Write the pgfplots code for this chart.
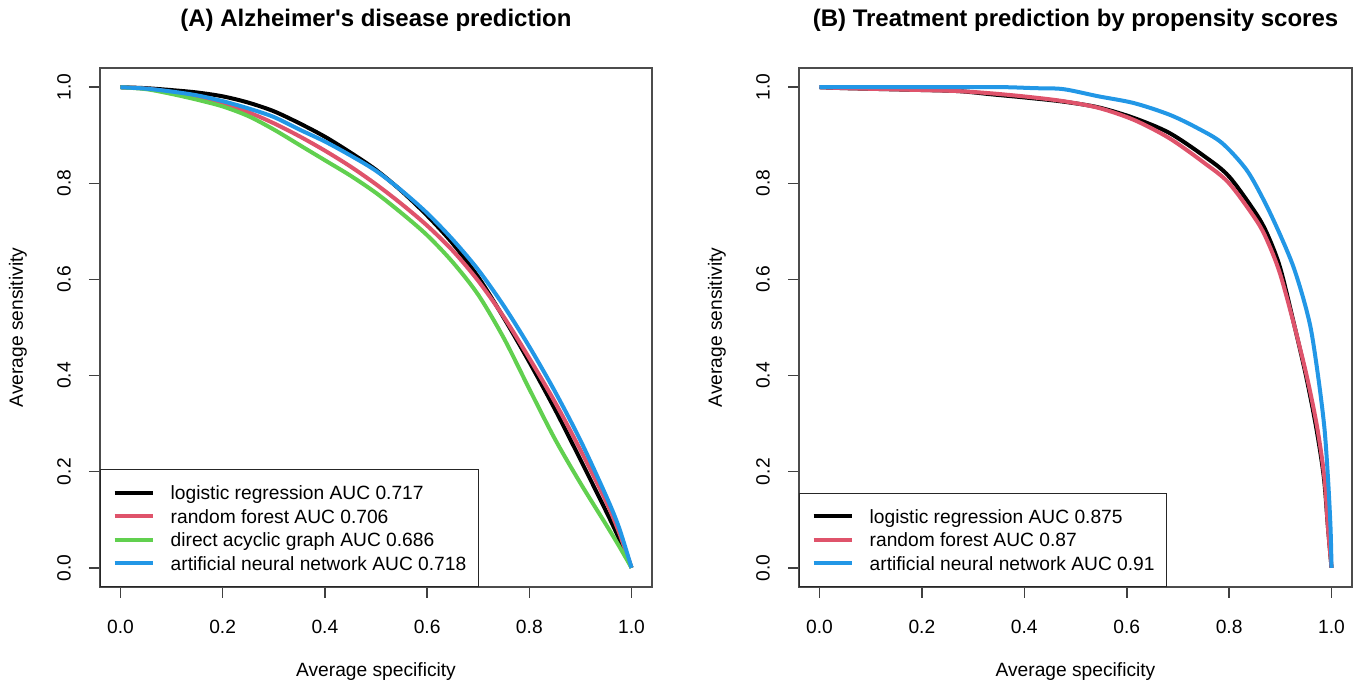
\documentclass[border=0pt]{standalone}
\usepackage{fontspec}
\setmainfont{Liberation Sans}
\usepackage{pgfplots}
\pgfplotsset{compat=1.18}
\definecolor{rblack}{HTML}{000000}
\definecolor{rred}{HTML}{DF536B}
\definecolor{rgreen}{HTML}{61D04F}
\definecolor{rblue}{HTML}{2297E6}
\newcommand{\rfont}{\fontsize{9.6}{11}\selectfont}

\pgfplotsset{
  legend image code/.code={\draw[#1, line width=2pt] (0pt,0pt) -- (19pt,0pt);},
  rstyle/.style={
    scale only axis, width=276pt, height=259.5pt,
    xmin=-0.04, xmax=1.04, ymin=-0.04, ymax=1.04,
    xtick={0,0.2,0.4,0.6,0.8,1}, ytick={0,0.2,0.4,0.6,0.8,1},
    xticklabels={0.0,0.2,0.4,0.6,0.8,1.0},
    yticklabels={0.0,0.2,0.4,0.6,0.8,1.0},
    xtick pos=left, ytick pos=left,
    tick align=outside, major tick length=5.5pt,
    axis line style={black!70, line width=0.9pt},
    tick style={black!75, line width=0.8pt},
    xticklabel style={font=\rfont, anchor=center, yshift=-14.5pt},
    yticklabel style={font=\rfont, rotate=90, anchor=center},
    yticklabel shift=12.5pt,
    xlabel={Average specificity}, ylabel={Average sensitivity},
    xlabel style={font=\rfont, at={(axis description cs:0.5,0)}, anchor=center, yshift=-42.5pt},
    ylabel style={font=\rfont, at={([xshift=-41pt]axis description cs:0,0.5)}, anchor=center},
    title style={font=\fontsize{12}{14}\selectfont\bfseries, at={(axis description cs:0.5,1)}, anchor=center, yshift=18pt},
    every axis plot/.append style={line width=2pt, mark=none, line join=round, smooth, tension=0.5},
    legend cell align=left,
    legend style={at={(axis description cs:0,0)}, anchor=south west, draw=black!85,
      line width=0.7pt, fill=white, font=\rfont, inner xsep=6pt, inner ysep=7pt,
      row sep=2.75pt, nodes={inner sep=0pt, text height=8pt, text depth=1pt},
      /tikz/every odd column/.append style={column sep=8pt}},
  }
}

\begin{document}
\begin{tikzpicture}
\path (0,0) rectangle (681.5pt,343.5pt);

\begin{axis}[rstyle, at={(50pt,50pt)}, anchor=south west,
  title={(A) Alzheimer\textquotesingle s disease prediction},
  legend entries={logistic regression AUC 0.717, random forest AUC 0.706,
    direct acyclic graph AUC 0.686, artificial neural network AUC 0.718}]
\addplot[rblack] coordinates {(0,1.000) (0.05,0.998) (0.10,0.994) (0.15,0.989) (0.20,0.981) (0.25,0.968) (0.30,0.950) (0.35,0.925) (0.40,0.897) (0.45,0.864) (0.50,0.828) (0.55,0.784) (0.60,0.733) (0.65,0.675) (0.70,0.605) (0.75,0.520) (0.80,0.428) (0.85,0.330) (0.90,0.225) (0.95,0.118) (0.975,0.062) (1.0,0.0)};
\addplot[rred] coordinates {(0,1.0) (0.05,0.997) (0.10,0.990) (0.15,0.980) (0.20,0.966) (0.25,0.948) (0.30,0.925) (0.35,0.898) (0.40,0.868) (0.45,0.835) (0.50,0.798) (0.55,0.757) (0.60,0.712) (0.65,0.660) (0.70,0.597) (0.75,0.522) (0.80,0.436) (0.85,0.345) (0.90,0.245) (0.95,0.138) (0.975,0.075) (1.0,0.0)};
\addplot[rgreen] coordinates {(0,1.0) (0.05,0.996) (0.10,0.986) (0.15,0.974) (0.20,0.960) (0.25,0.940) (0.30,0.912) (0.35,0.880) (0.40,0.848) (0.45,0.816) (0.50,0.780) (0.55,0.738) (0.60,0.692) (0.65,0.636) (0.70,0.568) (0.75,0.478) (0.80,0.372) (0.85,0.268) (0.90,0.176) (0.95,0.090) (0.975,0.046) (1.0,0.0)};
\addplot[rblue] coordinates {(0,1.0) (0.05,0.997) (0.10,0.991) (0.15,0.983) (0.20,0.971) (0.25,0.956) (0.30,0.938) (0.35,0.912) (0.40,0.887) (0.45,0.858) (0.50,0.826) (0.55,0.785) (0.60,0.738) (0.65,0.683) (0.70,0.620) (0.75,0.545) (0.80,0.460) (0.85,0.367) (0.90,0.265) (0.95,0.150) (0.975,0.085) (1.0,0.0)};
\end{axis}

\begin{axis}[rstyle, width=276.5pt, at={(399.5pt,50pt)}, anchor=south west,
  title={(B) Treatment prediction by propensity scores},
  legend entries={logistic regression AUC 0.875, random forest AUC 0.87,
    artificial neural network AUC 0.91}]
\addplot[rblack] coordinates {(0,1.0) (0.05,0.998) (0.165,0.995) (0.269,0.992) (0.338,0.985) (0.407,0.978) (0.476,0.970) (0.545,0.958) (0.614,0.936) (0.683,0.905) (0.752,0.856) (0.800,0.814) (0.855,0.733) (0.878,0.686) (0.900,0.623) (0.925,0.515) (0.950,0.400) (0.970,0.292) (0.985,0.188) (0.993,0.084) (1.0,0.0)};
\addplot[rred] coordinates {(0,1.0) (0.05,0.998) (0.165,0.995) (0.269,0.992) (0.338,0.987) (0.407,0.980) (0.476,0.971) (0.545,0.957) (0.614,0.932) (0.683,0.894) (0.752,0.842) (0.800,0.800) (0.855,0.720) (0.878,0.672) (0.900,0.610) (0.927,0.505) (0.952,0.397) (0.972,0.292) (0.986,0.188) (0.993,0.084) (1.0,0.0)};
\addplot[rblue] coordinates {(0,1.0) (0.10,1.0) (0.20,1.0) (0.30,1.0) (0.365,1.0) (0.42,0.998) (0.476,0.996) (0.545,0.981) (0.614,0.967) (0.683,0.943) (0.738,0.915) (0.786,0.884) (0.834,0.828) (0.870,0.760) (0.900,0.692) (0.925,0.628) (0.945,0.560) (0.960,0.495) (0.974,0.397) (0.986,0.292) (0.993,0.188) (0.998,0.084) (1.0,0.0)};
\end{axis}
\end{tikzpicture}
\end{document}
